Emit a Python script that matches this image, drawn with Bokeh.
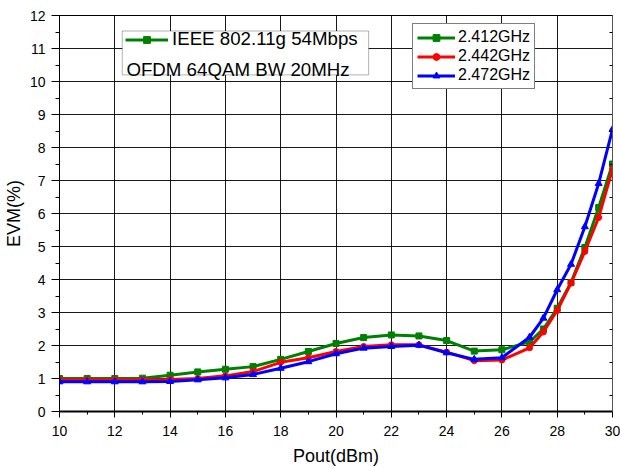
from bokeh.plotting import figure
from bokeh.models import (Legend, LegendItem, Label, BoxAnnotation, LinearAxis,
                          SingleIntervalTicker, FixedTicker, Range1d)
from bokeh.embed import file_html
from bokeh.resources import INLINE

# ---- data ----
pout = [10, 11, 12, 13, 14, 15, 16, 17, 18, 19, 20, 21, 22, 23, 24, 25, 26,
        27, 27.5, 28, 28.5, 29, 29.5, 30]
evm_2412 = [1.00, 1.00, 1.00, 1.01, 1.10, 1.20, 1.28, 1.36, 1.58, 1.82, 2.06, 2.24,
            2.32, 2.29, 2.15, 1.83, 1.87, 2.11, 2.50, 3.13, 3.91, 4.97, 6.18, 7.50]
evm_2442 = [0.96, 0.96, 0.96, 0.96, 0.97, 1.00, 1.08, 1.21, 1.49, 1.63, 1.82, 1.97,
            2.02, 2.02, 1.80, 1.54, 1.56, 1.93, 2.41, 3.06, 3.89, 4.85, 5.88, 7.34]
evm_2472 = [0.90, 0.90, 0.90, 0.90, 0.91, 0.96, 1.02, 1.12, 1.31, 1.51, 1.75, 1.92,
            1.97, 2.01, 1.78, 1.58, 1.63, 2.25, 2.83, 3.69, 4.46, 5.60, 6.91, 8.55]
series_labels = ["2.412GHz", "2.442GHz", "2.472GHz"]
title_line1 = "IEEE 802.11g 54Mbps"
title_line2 = "OFDM 64QAM BW 20MHz"

FONT = "Liberation Sans"
GREEN = "#008000"
RED = "#FF0000"
BLUE = "#0000FF"

p = figure(width=620, height=468, x_range=Range1d(10, 30), y_range=Range1d(0, 12),
           output_backend="svg", toolbar_location=None,
           min_border_left=51, min_border_right=8, min_border_top=15, min_border_bottom=55)
p.background_fill_color = "white"
p.border_fill_color = "white"
p.outline_line_color = "black"
p.outline_line_width = 1

# axes
p.xaxis.ticker = SingleIntervalTicker(interval=2, num_minor_ticks=2)
p.yaxis.ticker = SingleIntervalTicker(interval=1, num_minor_ticks=2)
p.xaxis.axis_label = "Pout(dBm)"
p.yaxis.axis_label = "EVM(%)"
for ax in (p.xaxis, p.yaxis):
    ax.axis_label_text_font = FONT
    ax.axis_label_text_font_size = "18px"
    ax.axis_label_text_font_style = "normal"
    ax.axis_label_text_color = "black"
    ax.major_label_text_font = FONT
    ax.major_label_text_font_size = "14px"
    ax.major_label_text_color = "black"
    ax.axis_line_color = "black"
    ax.major_tick_line_color = "black"
    ax.minor_tick_line_color = "black"
    ax.major_tick_in = 0
    ax.minor_tick_in = 0
p.xaxis.axis_line_width = 2
p.xaxis.major_tick_out = 6
p.xaxis.minor_tick_out = 3
p.xaxis.major_label_standoff = 8
p.xaxis.axis_label_standoff = 7
p.yaxis.major_tick_out = 8
p.yaxis.minor_tick_out = 4
p.yaxis.major_label_standoff = 6
p.yaxis.axis_label_standoff = 3

right = LinearAxis(ticker=FixedTicker(ticks=[], minor_ticks=[v + 0.5 for v in range(12)]))
right.major_tick_in = 0
right.major_tick_out = 0
right.minor_tick_in = 3
right.minor_tick_out = 0
right.major_label_standoff = 0
right.axis_line_color = "#555555"
p.add_layout(right, "right")

p.xgrid.ticker = p.xaxis.ticker
p.xgrid.grid_line_color = "black"
p.ygrid.grid_line_color = "black"
p.xgrid.grid_line_alpha = 0.9
p.ygrid.grid_line_alpha = 0.9

# series
g_line = p.line(pout, evm_2412, line_color=GREEN, line_width=3)
g_pts = p.scatter(pout, evm_2412, marker="square", size=6, fill_color=GREEN, line_color=GREEN)
r_line = p.line(pout, evm_2442, line_color=RED, line_width=3)
r_pts = p.scatter(pout, evm_2442, marker="circle", size=6, fill_color=RED, line_color=RED)
b_line = p.line(pout, evm_2472, line_color=BLUE, line_width=3)
b_pts = p.scatter(pout, evm_2472, marker="triangle", size=7, fill_color=BLUE, line_color=BLUE)

# title box (legend 1)
box = BoxAnnotation(left=12.27, right=21.18, top=11.53, bottom=10.2,
                    fill_color="white", fill_alpha=1.0, line_color="black", line_width=1)
p.add_layout(box)

leg1 = Legend(items=[LegendItem(label=title_line1, renderers=[g_line, g_pts])],
              location=(66, 361), orientation="vertical",
              border_line_color=None, background_fill_alpha=0,
              padding=0, margin=0, glyph_width=43, glyph_height=17, label_height=17,
              label_standoff=4, label_text_font=FONT, label_text_font_size="18.7px",
              label_text_color="black")
p.add_layout(leg1, "center")

lab2 = Label(x=12.42, y=10.35, text=title_line2, text_font=FONT, text_font_size="18.7px",
             text_color="black", text_baseline="alphabetic", text_align="left")
p.add_layout(lab2)

# series legend
leg2 = Legend(items=[LegendItem(label=series_labels[0], renderers=[g_line, g_pts]),
                     LegendItem(label=series_labels[1], renderers=[r_line, r_pts]),
                     LegendItem(label=series_labels[2], renderers=[b_line, b_pts])],
              location=(353, 322), orientation="vertical",
              border_line_color="black", border_line_width=1,
              background_fill_color="white", background_fill_alpha=1,
              padding=4, margin=0, spacing=1, glyph_width=38, glyph_height=17,
              label_height=17, label_standoff=3, label_text_font=FONT,
              label_text_font_size="16px", label_text_color="black")
p.add_layout(leg2, "center")

open("out.html", "w").write(file_html(p, INLINE))
